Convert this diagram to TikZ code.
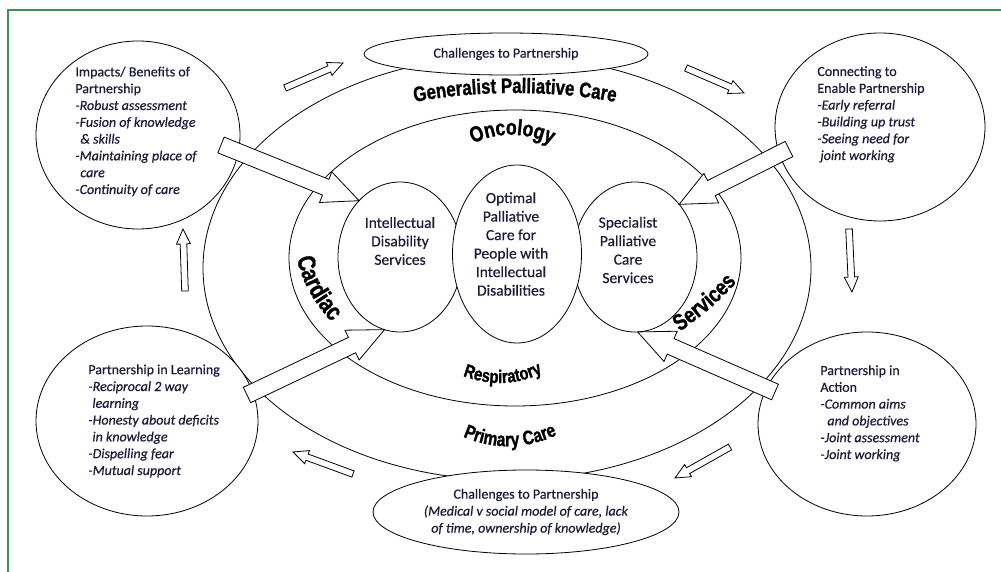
\documentclass[tikz,border=0pt]{standalone}
\usepackage{fontspec}
\setmainfont{Carlito}[FakeBold=0.5]
\newfontfamily\ringfont[FakeStretch=0.8, FakeBold=1.2]{Liberation Sans}
\usetikzlibrary{shapes.geometric,decorations.text,calc}

\definecolor{framegreen}{RGB}{56,146,88}
\definecolor{txtnavy}{RGB}{28,28,58}

% hollow block arrow from #1 to #2: shaft half width, head half width, head length
\newcommand{\fatarrow}[5]{%
  \path let \p1=(#1), \p2=(#2), \n1={atan2(\y2-\y1,\x2-\x1)}, \n2={veclen(\x2-\x1,\y2-\y1)} in
    \pgfextra{\xdef\arrang{\n1}\xdef\arrlen{\n2}};
  \begin{scope}[shift={(#1)}, rotate=\arrang, x=1pt, y=1pt]
    \draw[blockarrow] (0,-#3) -- ({\arrlen-#5pt},-#3) -- ({\arrlen-#5pt},-#4) -- ({\arrlen},0)
      -- ({\arrlen-#5pt},#4) -- ({\arrlen-#5pt},#3) -- (0,#3) -- cycle;
  \end{scope}}

\tikzset{
  bigcircle/.style={draw, ellipse, fill=white, inner sep=0pt, outer sep=0pt},
  innercircle/.style={draw, ellipse, fill=white, inner sep=0pt, outer sep=0pt},
  challenge/.style={draw, ellipse, fill=white, inner sep=0pt, align=center, text=txtnavy,
    font=\fontsize{14}{17}\selectfont},
  circtext/.style={anchor=base west, align=left, inner sep=0pt, text=txtnavy,
    font=\fontsize{14}{16.8}\selectfont},
  innertext/.style={align=center, inner sep=0pt, text=txtnavy,
    font=\fontsize{15.5}{18.5}\selectfont},
  blockarrow/.style={draw, fill=white, line join=miter}
}

\begin{document}
\begin{tikzpicture}[x=1pt, y=-1pt, line width=0.8pt]
    \useasboundingbox (0,0) rectangle (1001,572);

    % frame
    \draw[framegreen, line width=1.2pt] (8,572) -- (8,10) -- (1001,10);

    % rings
    \draw (507,268) ellipse [x radius=304pt, y radius=212pt];
    \draw (515,258) ellipse [x radius=226pt, y radius=148pt];

    % inner circles
    \node[innercircle, minimum width=124pt, minimum height=150pt] (idserv) at (400,257) {};
    \node[innercircle, minimum width=124pt, minimum height=150pt] (specserv) at (635,257) {};
    \node[innercircle, minimum width=129pt, minimum height=178pt] (optimal) at (517,254) {};

    % challenges
    \node[challenge, minimum width=284pt, minimum height=42pt] (chaltop) at (506,54)
        {Challenges to Partnership};
    \node[challenge, minimum width=306pt, minimum height=84pt] (chalbot) at (526,512)
        {Challenges to Partnership\\ \textit{(Medical v social model of care, lack}\\ \textit{of time, ownership of knowledge)}};

    % corner circles
    \node[bigcircle, minimum width=204pt, minimum height=188pt] (benefits) at (138,135) {};
    \node[bigcircle, minimum width=210pt, minimum height=188pt] (connect) at (880,127) {};
    \node[bigcircle, minimum width=222pt, minimum height=190pt] (learning) at (147,421) {};
    \node[bigcircle, minimum width=218pt, minimum height=184pt] (action) at (867,424) {};

    % big arrows into the services
    \coordinate (benefitstail) at (221,145);
    \coordinate (connecttail) at (789,149);
    \coordinate (learningtail) at (247,395);
    \coordinate (actiontail) at (775,392);
    \fatarrow{benefitstail}{idserv.126}{8.5}{16.5}{36}
    \fatarrow{connecttail}{specserv.50}{8.5}{16.5}{36}
    \fatarrow{learningtail}{idserv.-102}{8.5}{16.5}{36}
    \fatarrow{actiontail}{specserv.-88}{8.5}{16.5}{36}

    % small cycle arrows
    \coordinate (cyc1a) at (285,88);  \coordinate (cyc1b) at (343,63);
    \coordinate (cyc2a) at (686,68);  \coordinate (cyc2b) at (744,93);
    \coordinate (cyc3a) at (849,229); \coordinate (cyc3b) at (852,292);
    \coordinate (cyc4a) at (730,447); \coordinate (cyc4b) at (675,478);
    \coordinate (cyc5a) at (353,474); \coordinate (cyc5b) at (293,452);
    \coordinate (cyc6a) at (185,291); \coordinate (cyc6b) at (183,229);
    \fatarrow{cyc1a}{cyc1b}{3.3}{7}{15}
    \fatarrow{cyc2a}{cyc2b}{3.3}{7}{15}
    \fatarrow{cyc3a}{cyc3b}{3.3}{7}{15}
    \fatarrow{cyc4a}{cyc4b}{3.3}{7}{15}
    \fatarrow{cyc5a}{cyc5b}{3.3}{7}{15}
    \fatarrow{cyc6a}{cyc6b}{3.3}{7}{15}

    % circle texts (base = last line)
    \node[circtext] (benefitstext) at (75,194) {Impacts/ Benefits of\\ Partnership\\
        \textit{-Robust assessment}\\ \textit{-Fusion of knowledge}\\ \hspace*{5pt}\textit{\& skills}\\
        \textit{-Maintaining place of}\\ \hspace*{5pt}\textit{care}\\ \textit{-Continuity of care}};
    \node[circtext] (connecttext) at (817,160) {Connecting to\\ Enable Partnership\\
        \textit{-Early referral}\\ \textit{-Building up trust}\\ \textit{-Seeing need for}\\
        \hspace*{3pt}\textit{joint working}};
    \node[circtext] (learningtext) at (88,475) {Partnership in Learning\\
        \textit{-Reciprocal 2 way}\\ \hspace*{4pt}\textit{learning}\\ \textit{-Honesty about deficits}\\
        \hspace*{4pt}\textit{in knowledge}\\ \textit{-Dispelling fear}\\ \textit{-Mutual support}};
    \node[circtext] (actiontext) at (820,459) {Partnership in\\ Action\\
        \textit{-Common aims}\\ \hspace*{7pt}\textit{and objectives}\\ \textit{-Joint assessment}\\
        \textit{-Joint working}};

    \node[innertext] (idtext) at (400,241) {Intellectual\\ Disability\\ Services};
    \node[innertext] (optimaltext) at (511,244) {Optimal\\ Palliative\\ Care for\\ People with\\ Intellectual\\ Disabilities};
    \node[innertext] (spectext) at (628,250) {Specialist\\ Palliative\\ Care\\ Services};

    % ring labels
    \path[decorate, decoration={text along path, text align=center,
        text={|\ringfont\bfseries\fontsize{21}{21}\selectfont|Generalist Palliative Care}}]
        (390,108) .. controls (460,88) and (570,88) .. (640,108);
    \path[decorate, decoration={text along path, text align=center,
        text={|\ringfont\bfseries\fontsize{22}{22}\selectfont|Oncology}}]
        (455,155) .. controls (490,128) and (530,128) .. (570,155);
    \path[decorate, decoration={text along path, text align=center,
        text={|\ringfont\bfseries\fontsize{18.5}{18.5}\selectfont|Respiratory}}]
        (450,370) .. controls (485,388) and (520,388) .. (555,366);
    \path[decorate, decoration={text along path, text align=center,
        text={|\ringfont\bfseries\fontsize{19.5}{19.5}\selectfont|Primary Care}}]
        (450,430) .. controls (488,452) and (530,452) .. (570,428);
    \path[decorate, decoration={text along path, text align=center,
        text={|\ringfont\bfseries\fontsize{25}{25}\selectfont|Cardiac}}]
        (294,240) .. controls (297,275) and (312,305) .. (345,335);
    \path[decorate, decoration={text along path, text align=center,
        text={|\ringfont\bfseries\fontsize{23}{23}\selectfont|Services}}]
        (665,342) .. controls (690,325) and (725,300) .. (748,268);
\end{tikzpicture}
\end{document}
